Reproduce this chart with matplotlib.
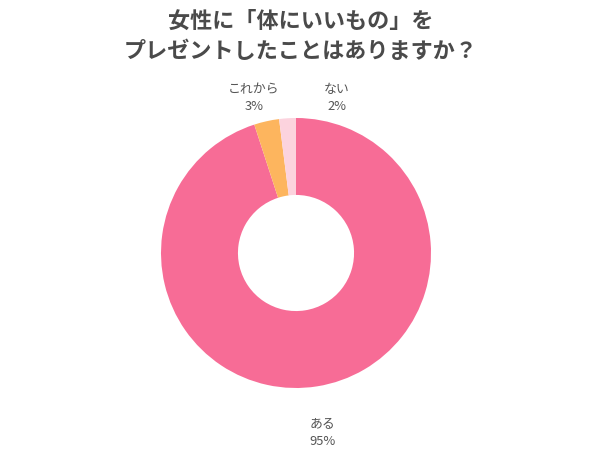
import matplotlib.pyplot as plt

plt.rcParams['font.family'] = ['Noto Sans CJK JP', 'DejaVu Sans']

title = "女性に「体にいいもの」を\nプレゼントしたことはありますか？"
labels = ["ある", "これから", "ない"]
values = [95, 3, 2]
colors = ["#F76C96", "#FDB55E", "#FCD3DE"]

W, H = 602, 451
fig = plt.figure(figsize=(W / 100, H / 100), dpi=100)
ax = fig.add_axes([0, 0, 1, 1])

cx, cy, r = 296, H - 253, 135
ax.pie(values, colors=colors, startangle=90, counterclock=False,
       center=(cx, cy), radius=r, frame=True,
       wedgeprops=dict(width=r * 0.57, linewidth=0))
ax.set_xlim(0, W)
ax.set_ylim(0, H)
ax.set_aspect('equal')
ax.axis('off')

fig.text(0.5, 1 - 36 / H, title, ha='center', va='center', fontsize=15.9,
         fontweight='bold', color='#4a4a4a', linespacing=1.4)

# label positions (pixels from top)
pos = {"これから": (254, 98), "ない": (337, 98), "ある": (322, 433)}
for lab, v in zip(labels, values):
    x, y = pos[lab]
    ax.text(x, H - y, f"{lab}\n{v}%", ha='center', va='center', fontsize=9.3,
            color='#555555', linespacing=1.35)

fig.savefig("out.png", dpi=100, facecolor='white')
